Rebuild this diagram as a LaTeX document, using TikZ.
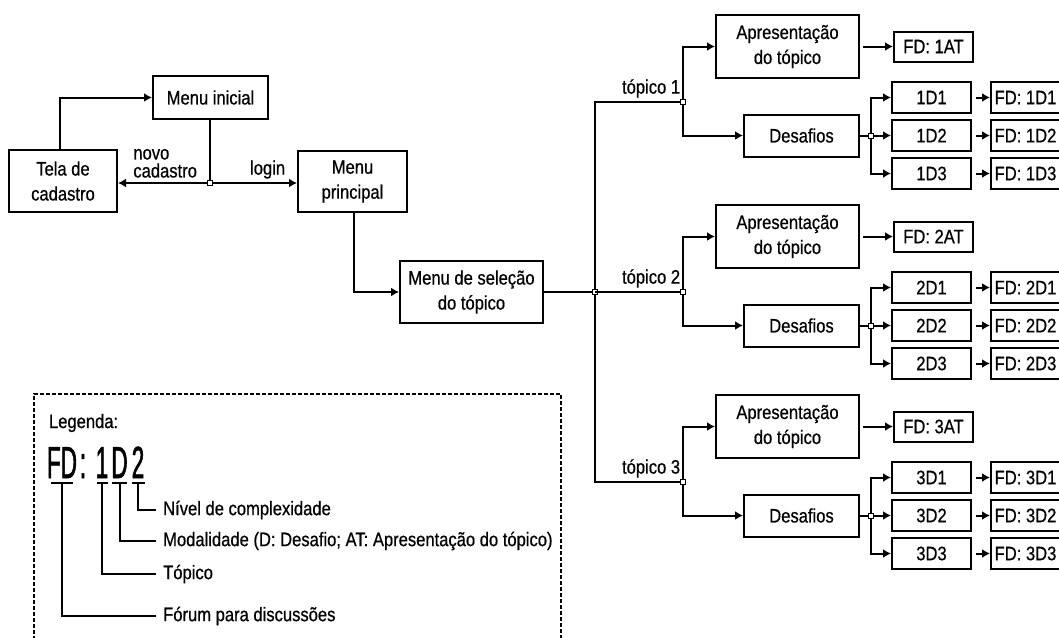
\documentclass[tikz,border=0pt]{standalone}
\usepackage{fontspec}
\setmainfont{Liberation Sans}[FakeStretch=0.85, FakeBold=0.6]
\newfontfamily\codefont{Liberation Sans}[FakeStretch=0.5, FakeBold=1.2]
\usetikzlibrary{shapes,arrows,arrows.meta}
\usetikzlibrary{positioning}
\tikzstyle{block} = [draw, rectangle, line width=2pt, align=center, inner sep=2pt]
\tikzstyle{line} = [draw, line width=2pt, -{Latex[length=8pt,width=9pt]}]
\tikzstyle{wire} = [draw, line width=2pt]
\tikzstyle{joint} = [draw, fill=white, rectangle, line width=1pt, minimum size=5pt, inner sep=0pt]

\begin{document}
\begin{tikzpicture}[x=1pt, y=-1pt, font=\fontsize{19.5}{25}\selectfont,
	small/.style={block, minimum width=79pt, minimum height=31pt},
	forum/.style={block, minimum width=69pt, minimum height=31pt}]
	\useasboundingbox (0,0) rectangle (1059,637);
	\node [block, minimum width=108pt, minimum height=62pt] (tela) at (63,181) {Tela de\\cadastro};
	\node [block, minimum width=115pt, minimum height=43pt] (inicial) at (210.5,97.5) {Menu inicial};
	\node [block, minimum width=109pt, minimum height=61pt] (principal) at (352.5,181.5) {Menu\\principal};
	\node [joint] (j0) at (210,183) {};
	\node [block, minimum width=143pt, minimum height=62pt] (selecao) at (471.5,292) {Menu de seleção\\do tópico};
	\node [joint] (jt) at (595,292) {};
	%% Arrows
	\path [line] ([xshift=-3pt]tela.north) |- (inicial.west);
	\path [wire] (inicial.south -| j0) -- (j0);
	\path [line] (j0) -- node [pos=0.47, above, align=left, yshift=1pt, font=\fontsize{19.5}{18}\selectfont] {novo\\cadastro} (tela.east |- j0);
	\path [line] (j0) -- node [pos=0.65, above] {login} (principal.west |- j0);
	\path [line] ([xshift=1.5pt]principal.south) |- (selecao.west);
	\path [wire] (selecao) -- (jt);
	%% Topicos
	\foreach \n/\y in {1/0,2/190,3/380} {
		\node [joint] (t\n) at (683,102+\y) {};
		\node [block, minimum width=143pt, minimum height=63pt] (ap\n) at (787.5,46.5+\y) {Apresentação\\do tópico};
		\node [block, minimum width=115pt, minimum height=42pt] (de\n) at (801.5,135.5+\y) {Desafios};
		\node [block, minimum width=79pt, minimum height=30pt, right=33pt of ap\n] (fa\n) {FD: \n AT};
		\node [joint] (dj\n) at (871,135.5+\y) {};
		\node [small] (d\n-2) at (931.5,135.5+\y) {\n D2};
		\node [small, above=5pt of d\n-2] (d\n-1) {\n D1};
		\node [small, below=5pt of d\n-2] (d\n-3) {\n D3};
		\node [forum, right=18pt of d\n-1] (f\n-1) {FD: \n D1};
		\node [forum, right=18pt of d\n-2] (f\n-2) {FD: \n D2};
		\node [forum, right=18pt of d\n-3] (f\n-3) {FD: \n D3};
		\path [wire] (jt) |- node [pos=0.83, above] {tópico \n} (t\n);
		\path [line] (t\n) |- (ap\n.west);
		\path [line] (t\n) |- (de\n.west);
		\path [line, shorten <=3pt] (ap\n) -- (fa\n);
		\path [wire] (de\n) -- (dj\n);
		\path [line] (dj\n) |- (d\n-1.west);
		\path [line] (dj\n) -- (d\n-2.west);
		\path [line] (dj\n) |- (d\n-3.west);
		\path [line, shorten <=4pt] (d\n-1) -- (f\n-1);
		\path [line, shorten <=4pt] (d\n-2) -- (f\n-2);
		\path [line, shorten <=4pt] (d\n-3) -- (f\n-3);
	}
	%% Legenda
	\draw [line width=1.5pt, dash pattern=on 4pt off 2pt] (34,640) |- (561,394) -- (561,640);
	\node [anchor=west] (legenda) at (45.5,423) {Legenda:};
	\begin{scope}[every node/.style={anchor=base, font=\codefont\fontsize{45}{45}\selectfont}]
		\node (cfd) at (62,478) {FD};
		\node (ccolon) at (83,478) {:};
		\node (c1) at (102,478) {1};
		\node (cd) at (119.5,478) {D};
		\node (c2) at (138,478) {2};
	\end{scope}
	\node [anchor=west, inner sep=0pt] (nivel) at (163,510) {Nível de complexidade};
	\node [anchor=west, inner sep=0pt] (modal) at (163,541) {Modalidade (D: Desafio; AT: Apresentação do tópico)};
	\node [anchor=west, inner sep=0pt] (topico) at (163,574) {Tópico};
	\node [anchor=west, inner sep=0pt] (forumtxt) at (163,616) {Fórum para discussões};
	\path [wire] ([xshift=-11pt,yshift=-5pt]cfd.base) -- ([xshift=11pt,yshift=-5pt]cfd.base);
	\path [wire] ([xshift=-5.5pt,yshift=-5pt]c1.base) -- ([xshift=5.5pt,yshift=-5pt]c1.base);
	\path [wire] ([xshift=-7.5pt,yshift=-5pt]cd.base) -- ([xshift=7.5pt,yshift=-5pt]cd.base);
	\path [wire] ([xshift=-6.5pt,yshift=-5pt]c2.base) -- ([xshift=6.5pt,yshift=-5pt]c2.base);
	\path [wire] ([yshift=-5pt]c2.base) |- ([xshift=-7pt]nivel.west);
	\path [wire] ([yshift=-5pt]cd.base) |- ([xshift=-7pt]modal.west);
	\path [wire] ([yshift=-5pt]c1.base) |- ([xshift=-7pt]topico.west);
	\path [wire] ([yshift=-5pt]cfd.base) |- ([xshift=-7pt]forumtxt.west);
\end{tikzpicture}
\end{document}
